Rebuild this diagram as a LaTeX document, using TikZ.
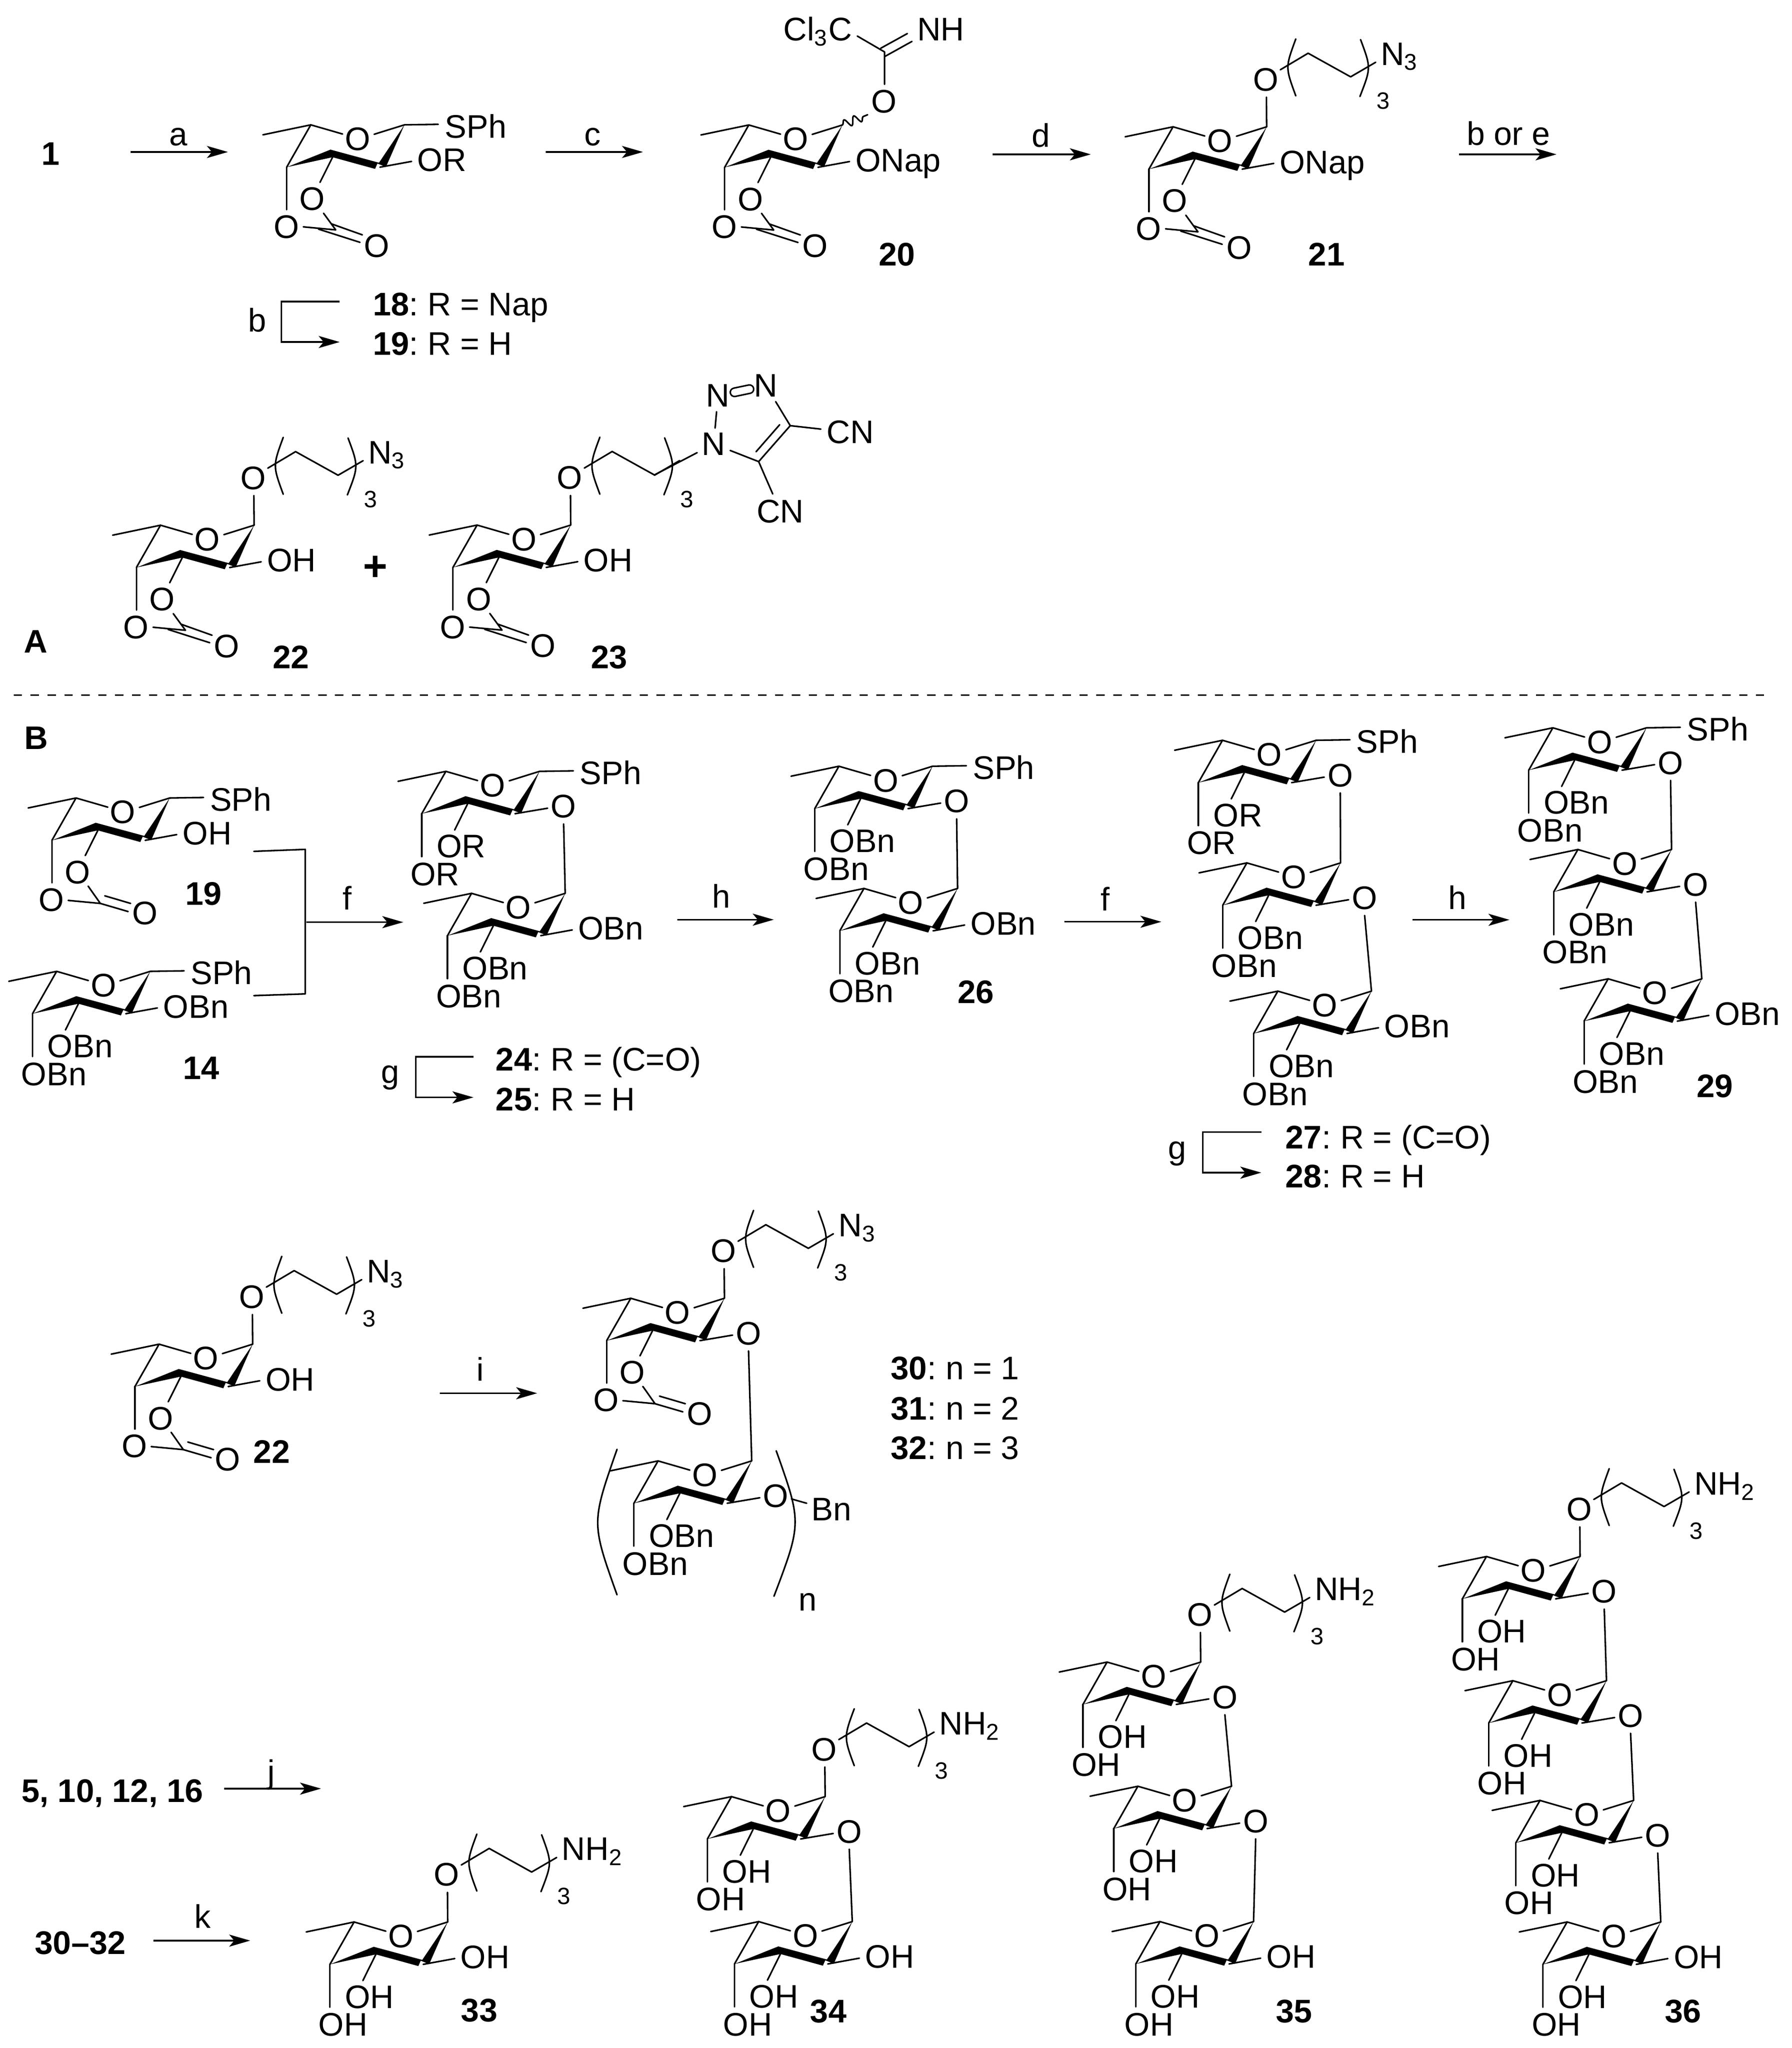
\documentclass[tikz,border=0pt]{standalone}
\usepackage{fontspec}
\setmainfont{Liberation Sans}
\usetikzlibrary{arrows.meta,decorations.pathmorphing}
\newcommand{\chemfont}{\fontsize{12.45}{15}\selectfont}
\tikzset{
  bond/.style={line width=0.6pt,line cap=round,line join=round},
  rxn/.style={line width=0.6pt,-{Stealth[length=8pt,width=4.6pt,inset=1.9pt]}},
  atom/.style={font=\chemfont,inner sep=0pt,anchor=center},
  lab/.style={font=\chemfont,inner sep=0pt,anchor=base west},
  cmpd/.style={font=\chemfont\bfseries,inner sep=0pt,anchor=center},
  cmpdrow/.style={font=\chemfont,inner sep=0pt,anchor=base west},
  % sugar ring, pic origin is C5
  ring/.pic={
    \coordinate (-c1) at (71.4,0);
    \draw[bond] (-36.5,7.6)--(0,0)--(24.2,7);
    \draw[bond] (0,0)--(-18.4,32.3);
    \draw[bond] (48.3,7.2)--(71.4,0);
    \fill[line join=round] (-18.4,32.3)--(15,18.9)--(52,28.9)--(71.4,0)--(57.3,32.1)--(50.8,29.5)--(49,33.6)--(16.6,24.7)--cycle;
    \node[atom] (-o) at (35.7,10.9) {O};
  },
  lower/.pic={
    \draw[bond] (16.6,24.7)--(6.7,44.7);
    \draw[bond] (-18.4,32.3)--(-18.4,65);
    \node[lab] (-a) at (-7.4,65.7) {#1};
    \node[lab] (-b) at (-27.4,87) {#1};
  },
  side/.pic={
    \draw[bond] (52.7,32.3)--(76.8,27.9);
    \node[lab] (-s) at (80.9,35.5) {#1};
  },
  sph/.pic={
    \draw[bond] (71.4,0)--(97.2,-0.4);
    \node[lab] (-p) at (101.7,9.9) {SPh};
  },
  link/.pic={
    \draw[bond] (52.7,32.3)--(77.6,28.1);
    \node[atom] (-g) at (89.8,26.8) {O};
    \coordinate (-lk) at (89.8,40.1);
  },
  carbo/.pic={
    \draw[bond] (16.6,24.7)--(7,43.9);
    \draw[bond] (-18.4,32.3)--(-18.4,64.7);
    \node[atom] (-p) at (1.2,56.6) {O};
    \node[atom] (-q) at (-18.7,77.8) {O};
  },
  zig/.pic={
    \draw[bond] (9.7,67.4)--(19,80.1)--(-5.7,77.8);
    \draw[bond] (15.7,75.5)--(39.3,83.9);
    \draw[bond] (5.8,79.5)--(37.5,89.6);
    \node[atom] (-k) at (50.4,92.2) {O};
  },
  pln/.pic={
    \draw[bond] (9.2,67.2)--(18.5,80.4)--(-6,78.1);
    \draw[bond] (18.5,80.4)--(39.7,86.6);
    \draw[bond] (21.9,74.6)--(41.6,80.4);
    \node[atom] (-k) at (52.4,88) {O};
  },
  chain/.pic={
    \draw[bond] (71.4,0)--(71.2,-22.6);
    \node[atom] (-e) at (70.7,-36) {O};
    \draw[bond] (81.8,-43.5)--(103,-56.1)--(135.4,-38.1)--(154.5,-49.2);
    \draw[bond] (93.6,-67) .. controls (85.6,-45.3) .. (93.6,-23.6);
    \draw[bond] (143,-66.5) .. controls (151,-45) .. (142.5,-23.1);
    \node[font=\fontsize{9}{11}\selectfont,inner sep=0pt] (-r) at (160.1,-19.6) {3};
    \node[lab] (-t) at (158,-47) {#1};
  },
}
\begin{document}
\begin{tikzpicture}[x=0.5pt,y=-0.5pt]
  \useasboundingbox (0,0) rectangle (1366.2,1561.7);
  % part A
  \path (237,95.2) pic {ring} pic {carbo} pic {zig} pic {sph} pic {side=OR};
  \path (571,95.3) pic (r20) {ring} pic {carbo} pic {zig} pic {side=ONap};
  \path (894.5,96.7) pic {ring} pic {carbo} pic {zig} pic {side=ONap} pic {chain=N\textsubscript{3}};
  \path (122.4,400.5) pic {ring} pic {carbo} pic {zig} pic {side=OH} pic {chain=N\textsubscript{3}};
  \path (363.8,400.4) pic {ring} pic {carbo} pic {zig} pic {side=OH} pic (r23) {chain={}};
  % imidate on 20
  \node[atom] (imo) at (674.2,77.5) {O};
  \node[lab,anchor=base east] (cl3c) at (650.1,31) {Cl\textsubscript{3}C};
  \node[lab] (imnh) at (699,31) {NH};
  \coordinate (imc) at (674.5,39.6);
  \coordinate (imcl) at (653.7,27.5);
  \coordinate (imdn) at (674.5,64.3);
  \coordinate (imwv) at (661.6,87.5);
  \coordinate (ima) at (671.6,36.8);
  \coordinate (imb) at (691.9,25.6);
  \coordinate (imd) at (674.5,43.2);
  \coordinate (ime) at (695.4,31.6);
  \draw[bond] (imcl)--(imc)--(imdn);
  \draw[bond] (ima)--(imb);
  \draw[bond] (imd)--(ime);
  \draw[bond,decorate,decoration={snake,segment length=4pt,amplitude=1.6pt}] (r20-c1)--(imwv);
  % triazole on 23
  \node[atom,inner sep=1.6pt] (n1) at (544.2,338.6) {N};
  \node[atom,inner sep=1.6pt] (n2) at (547.5,301.8) {N};
  \node[atom,inner sep=1.6pt] (n3) at (584.1,294.1) {N};
  \node[atom,inner sep=2pt] (cnt) at (648.3,329.7) {CN};
  \node[atom,inner sep=2pt] (cnb) at (595,389.9) {CN};
  \coordinate (tc4) at (602.6,324.6);
  \coordinate (tc5) at (578.5,352);
  \coordinate (ti4) at (594.5,323.9);
  \coordinate (ti5) at (576.5,344.5);
  \coordinate (tch) at (498.96,362.2);
  \draw[bond] (tch)--(n1);
  \draw[bond] (n1)--(n2);
  \draw[bond,double,double distance=2.6pt] (n2)--(n3);
  \draw[bond] (n3)--(tc4)--(tc5)--(n1);
  \draw[bond] (ti4)--(ti5);
  \draw[bond] (tc4)--(cnt);
  \draw[bond] (tc5)--(cnb);
  \node[cmpd,font=\fontsize{16}{18}\selectfont\bfseries] (plus) at (286.4,433.3) {+};
  \coordinate (dashl) at (10.4,530.1);
  \coordinate (dashr) at (1345,530.1);
  \draw[line width=0.55pt,dash pattern=on 3.2pt off 3.25pt] (dashl)--(dashr);
  % part B
  \path (58,608.5) pic {ring} pic {carbo} pic {pln} pic {side=OH} pic {sph};
  \path (43.2,740.7) pic {ring} pic {lower=OBn} pic {side=OBn} pic {sph};
  \path (340,588.2) pic (r24a) {ring} pic {lower=OR} pic (r24l) {link} pic {sph};
  \path (359.6,681.2) pic (r24b) {ring} pic {lower=OBn} pic {side=OBn};
  \draw[bond] (r24l-lk)--(r24b-c1);
  \path (639.7,584.3) pic {ring} pic {lower=OBn} pic (r26l) {link} pic {sph};
  \path (658.8,677.5) pic (r26b) {ring} pic {lower=OBn} pic {side=OBn};
  \draw[bond] (r26l-lk)--(r26b-c1);
  \path (932.2,564.5) pic {ring} pic {lower=OR} pic (r27l) {link} pic {sph};
  \path (950.8,658) pic (r27b) {ring} pic {lower=OBn} pic (r27m) {link};
  \path (974.4,755.8) pic (r27c) {ring} pic {lower=OBn} pic {side=OBn};
  \draw[bond] (r27l-lk)--(r27b-c1);
  \draw[bond] (r27m-lk)--(r27c-c1);
  \path (1184.1,555) pic {ring} pic {lower=OBn} pic (r29l) {link} pic {sph};
  \path (1203.2,647.8) pic (r29b) {ring} pic {lower=OBn} pic (r29m) {link};
  \path (1226.3,746.4) pic (r29c) {ring} pic {lower=OBn} pic {side=OBn};
  \draw[bond] (r29l-lk)--(r29b-c1);
  \draw[bond] (r29m-lk)--(r29c-c1);
  \path (121.3,1025) pic {ring} pic {carbo} pic {pln} pic {side=OH} pic {chain=N\textsubscript{3}};
  \path (481,990) pic {ring} pic {carbo} pic {pln} pic {chain=N\textsubscript{3}} pic (r30l) {link};
  \path (501.8,1114) pic (r30b) {ring} pic {lower=OBn} pic (r30m) {link};
  \draw[bond] (r30l-lk)--(r30b-c1);
  \node[atom] (bn) at (634,1150.9) {Bn};
  \coordinate (bnb) at (603.5,1143);
  \coordinate (bne) at (615.1,1146.3);
  \draw[bond] (bnb)--(bne);
  \coordinate (pla) at (470.5,1105.2);
  \coordinate (plb) at (470.5,1216.1);
  \coordinate (pra) at (591.9,1106.3);
  \coordinate (prb) at (590.2,1217.2);
  \draw[bond] (pla) .. controls (450.9,1161.2) .. (plb);
  \draw[bond] (pra) .. controls (611.4,1161.2) .. (prb);
  \node[atom] (nn) at (616,1221.6) {n};
  % deprotected
  \path (270,1465.6) pic {ring} pic {lower=OH} pic {side=OH} pic {chain=NH\textsubscript{2}};
  \path (557.8,1370) pic {ring} pic {lower=OH} pic (r34l) {link} pic {chain=NH\textsubscript{2}};
  \path (578.5,1465.3) pic (r34b) {ring} pic {lower=OH} pic {side=OH};
  \draw[bond] (r34l-lk)--(r34b-c1);
  \path (844.2,1267.4) pic {ring} pic {lower=OH} pic (r35l) {link} pic {chain=NH\textsubscript{2}};
  \path (867.7,1362.1) pic (r35b) {ring} pic {lower=OH} pic (r35m) {link};
  \path (884.5,1465.3) pic (r35c) {ring} pic {lower=OH} pic {side=OH};
  \draw[bond] (r35l-lk)--(r35b-c1);
  \draw[bond] (r35m-lk)--(r35c-c1);
  \path (1133.5,1186.9) pic {ring} pic {lower=OH} pic (r36l) {link} pic {chain=NH\textsubscript{2}};
  \path (1153.6,1281.6) pic (r36b) {ring} pic {lower=OH} pic (r36m) {link};
  \path (1174.3,1372.9) pic (r36c) {ring} pic {lower=OH} pic (r36n) {link};
  \path (1195,1465.6) pic (r36d) {ring} pic {lower=OH} pic {side=OH};
  \draw[bond] (r36l-lk)--(r36b-c1);
  \draw[bond] (r36m-lk)--(r36c-c1);
  \draw[bond] (r36n-lk)--(r36d-c1);
  % arrows
  \foreach \nm/\xa/\xb/\ya/\lbl/\lx/\ly in {
    a/99.6/173.8/115.9/a/136/111,
    c/416/490.3/115.9/c/452/111,
    d/757/831.8/117.7/d/793.6/112.2,
    be/1112.5/1186.9/117.7/b or e/1150.3/110.6,
    f/233.6/307.5/703.2/f/264.6/693.7,
    h/516.3/590/701.3/h/549.9/692.3,
    ff/811.8/885.6/702.9/f/842.9/694.5,
    hh/1077.2/1151/701.4/h/1111.4/693.5,
    i/335.4/409.6/1062.4/i/366.2/1053,
    j/170.8/244.8/1363.9/j/207/1359.6,
    k/117/190.8/1479.8/k/154.6/1470.2}{
    \coordinate (\nm s) at (\xa,\ya);
    \coordinate (\nm e) at (\xb,\ya);
    \draw[rxn] (\nm s)--(\nm e);
    \node[font=\chemfont,inner sep=0pt,anchor=base] (\nm l) at (\lx,\ly) {\lbl};
  }
  % brackets of the two-step labels
  \foreach \nm/\xa/\xb/\xc/\ya/\yb/\lbl/\lx/\ly in {
    b/259/214.7/259/230/260.8/b/196.2/253,
    g/361/317/361/805.8/836.8/g/297.5/826,
    gg/961.8/917.2/961.8/863.2/894.2/g/897.6/884}{
    \coordinate (\nm p) at (\xa,\ya);
    \coordinate (\nm q) at (\xb,\ya);
    \coordinate (\nm r) at (\xb,\yb);
    \coordinate (\nm t) at (\xc,\yb);
    \draw[rxn] (\nm p)--(\nm q)--(\nm r)--(\nm t);
    \node[font=\chemfont,inner sep=0pt,anchor=base] (\nm l) at (\lx,\ly) {\lbl};
  }
  % merge bracket
  \coordinate (mga) at (193.6,649.2);
  \coordinate (mgb) at (232.8,647.7);
  \coordinate (mgc) at (232.8,757.9);
  \coordinate (mgd) at (193.6,759.2);
  \draw[bond] (mga)--(mgb)--(mgc)--(mgd);
  % labels
  \foreach \nm/\lx/\ly/\t in {
    one/38.6/117.4/1, l20/684/194/20, l21/1011.6/194/21, l22/221.8/501/22,
    l23/464.6/501.2/23, la/27.3/489.4/A, lb/27.5/562.7/B, l19/155.2/681.6/19,
    l14/153.4/814.6/14, l26/744.1/756.5/26, l29/1307.6/828.2/29,
    l22b/207.2/1106.8/22, l33/365.5/1533/33, l34/631.7/1533.8/34,
    l35/986.9/1533.8/35, l36/1283.4/1533.8/36}{
    \node[cmpd] (\nm) at (\lx,\ly) {\t};
  }
  \foreach \nm/\lx/\ly/\t/\r in {
    t18/284/240.5/18/R = Nap, t19/284/270.8/19/R = H,
    t24/377.7/816.5/24/R = (C=O), t25/377.7/847/25/R = H,
    t27/979.9/876/27/R = (C=O), t28/979.9/905.7/28/R = H,
    t30/678.9/1052/30/n = 1, t31/678.9/1082.8/31/n = 2, t32/678.9/1112.9/32/n = 3}{
    \node[cmpdrow] (\nm) at (\lx,\ly) {\textbf{\t}:\hspace{-1pt} \r};
  }
  \node[cmpd] (lfive) at (85.7,1367.5) {5, 10, 12, 16};
  \node[cmpd] (lthirty) at (61.3,1481.5) {30–32};
\end{tikzpicture}
\end{document}
